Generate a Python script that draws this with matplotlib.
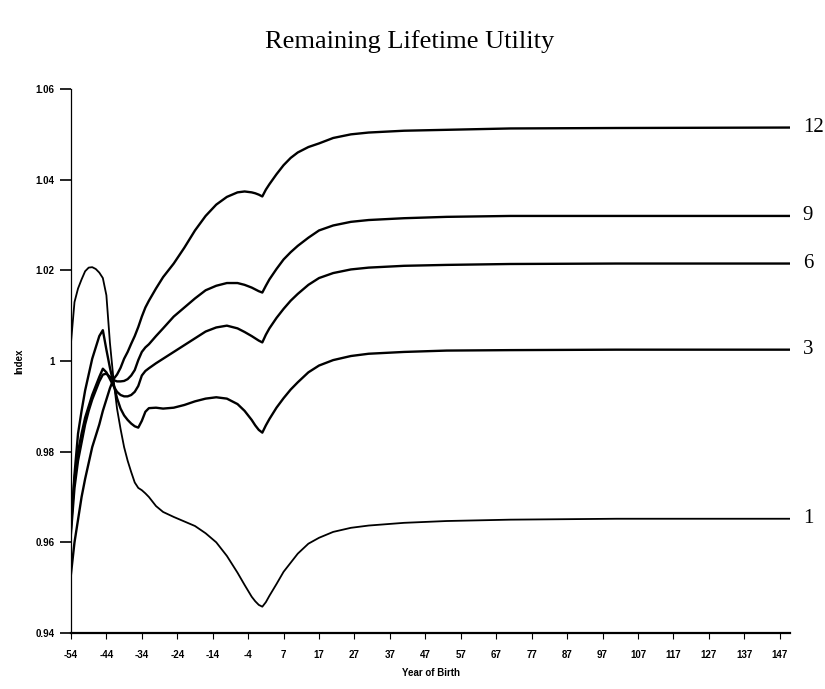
import numpy as np
import matplotlib
matplotlib.use('Agg')
from matplotlib import pyplot as plt

# year of birth (no year 0 on this axis)
years = [-54, -53, -52, -51, -50, -49, -48, -47, -46, -45, -44, -43, -42, -41, -40,
         -39, -38, -37, -36, -35, -34, -33, -32, -30, -28, -25, -22, -19, -16, -13,
         -10, -7, -5, -3, -2, -1, 1, 2, 3, 5, 7, 9, 11, 14, 17, 21, 26, 31, 41, 53,
         71, 101, 150]

u1 = [1.004, 1.013, 1.016, 1.018, 1.0198, 1.0206, 1.0207, 1.0203, 1.0195, 1.0183,
      1.0145, 1.004, 0.996, 0.9895, 0.985, 0.981, 0.978, 0.9755, 0.9732, 0.972,
      0.9715, 0.9708, 0.970, 0.968, 0.9667, 0.9656, 0.9646, 0.9636, 0.962, 0.960,
      0.957, 0.9533, 0.9506, 0.948, 0.947, 0.9462, 0.9458, 0.9468, 0.9482, 0.9508,
      0.9535, 0.9555, 0.9575, 0.9597, 0.961, 0.9623, 0.9632, 0.9637, 0.9643, 0.9647,
      0.965, 0.9652, 0.9652]

u3 = [0.963, 0.975, 0.984, 0.989, 0.9935, 0.997, 1.0005, 1.003, 1.0055, 1.0068,
      1.0025, 0.9985, 0.995, 0.9918, 0.9895, 0.988, 0.987, 0.9862, 0.9856, 0.9853,
      0.9868, 0.9888, 0.9896, 0.9897, 0.9895, 0.9897, 0.9903, 0.9911, 0.9917, 0.992,
      0.9917, 0.9905, 0.989, 0.987, 0.9858, 0.9848, 0.9842, 0.9858, 0.9872, 0.9897,
      0.9918, 0.9937, 0.9953, 0.9975, 0.999, 1.0002, 1.0011, 1.0016, 1.002, 1.0023,
      1.0024, 1.0025, 1.0025]

u6 = [0.964, 0.974, 0.980, 0.984, 0.9875, 0.990, 0.9925, 0.9945, 0.9965, 0.9983,
      0.9975, 0.996, 0.9945, 0.9932, 0.9925, 0.9922, 0.9922, 0.9925, 0.9932, 0.9945,
      0.9968, 0.9978, 0.9984, 0.9995, 1.0005, 1.002, 1.0035, 1.005, 1.0065, 1.0074,
      1.0078, 1.0072, 1.0064, 1.0055, 1.005, 1.0045, 1.0041, 1.0058, 1.0072, 1.0095,
      1.0115, 1.0133, 1.0148, 1.0168, 1.0183, 1.0194, 1.0202, 1.0206, 1.021, 1.0212,
      1.0214, 1.0215, 1.0215]

u9 = [0.962, 0.972, 0.978, 0.982, 0.986, 0.989, 0.9915, 0.9935, 0.9955, 0.997,
      0.9972, 0.9965, 0.9958, 0.9955, 0.9955, 0.9956, 0.996, 0.9968, 0.998, 1.0002,
      1.002, 1.003, 1.0037, 1.0055, 1.0072, 1.0098, 1.0118, 1.0138, 1.0156, 1.0166,
      1.0172, 1.0172, 1.0168, 1.0162, 1.0158, 1.0154, 1.0151, 1.0166, 1.018, 1.0203,
      1.0224, 1.024, 1.0254, 1.0272, 1.0288, 1.0299, 1.0307, 1.0311, 1.0315, 1.0318,
      1.032, 1.032, 1.032]

u12 = [0.953, 0.960, 0.965, 0.970, 0.974, 0.9775, 0.981, 0.9835, 0.986, 0.989,
       0.9915, 0.994, 0.996, 0.997, 0.9985, 1.0005, 1.002, 1.0038, 1.0055, 1.0075,
       1.0098, 1.0118, 1.0133, 1.016, 1.0185, 1.0215, 1.025, 1.0288, 1.032, 1.0345,
       1.0362, 1.0372, 1.0374, 1.0372, 1.037, 1.0367, 1.0363, 1.0378, 1.039, 1.0412,
       1.0432, 1.0448, 1.046, 1.0472, 1.048, 1.0492, 1.05, 1.0504, 1.0508, 1.051,
       1.0513, 1.0514, 1.0515]

series = [u1, u3, u6, u9, u12]
curve_labels = ['1', '3', '6', '9', '12']

tick_years = [-54, -44, -34, -24, -14, -4, 7, 17, 27, 37, 47, 57, 67, 77, 87, 97,
              107, 117, 127, 137, 147]
y_ticks = [0.94, 0.96, 0.98, 1.0, 1.02, 1.04, 1.06]
y_ticklabels = ['0.94', '0.96', '0.98', '1', '1.02', '1.04', '1.06']


def to_pos(yr):
    yr = np.asarray(yr, dtype=float)
    return np.where(yr > 0, yr - 1, yr)


fig = plt.figure(figsize=(8.25, 6.89), dpi=100)
ax = fig.add_axes([0.086, 0.0813, 0.872, 0.7895])

x = to_pos(years)
for vals, lab in zip(series, curve_labels):
    lw = 1.3 if lab == '1' else 1.7
    ax.plot(x, vals, color='black', lw=lw, solid_joinstyle='round')
    ax.text(152.5, vals[-1], lab, fontsize=15, family='Liberation Serif',
            ha='left', va='center', clip_on=False)

ax.set_xlim(-54, 149)
ax.set_ylim(0.94, 1.06)
ax.set_xticks(to_pos(tick_years))
ax.set_xticklabels([str(t) for t in tick_years])
ax.set_yticks(y_ticks)
ax.set_yticklabels(y_ticklabels)

for s in ['top', 'right']:
    ax.spines[s].set_visible(False)
ax.spines['bottom'].set_linewidth(1.6)
ax.spines['left'].set_linewidth(0.9)

ax.tick_params(axis='both', labelsize=7, direction='out')
ax.tick_params(axis='y', length=8, width=1.2, pad=4)
ax.tick_params(axis='x', length=4, width=0.8, pad=8)
for lbl in ax.get_xticklabels() + ax.get_yticklabels():
    lbl.set_fontweight('bold')
    lbl.set_family('Liberation Sans')

ax.set_xlabel('Year of Birth', fontsize=7, fontweight='bold', family='Liberation Sans', labelpad=6)
ax.set_ylabel('Index', fontsize=7, fontweight='bold', family='Liberation Sans', labelpad=8)

fig.text(0.497, 0.94, 'Remaining Lifetime Utility', fontsize=19, family='Liberation Serif',
         ha='center', va='center')

plt.savefig('out.png', dpi=100)
